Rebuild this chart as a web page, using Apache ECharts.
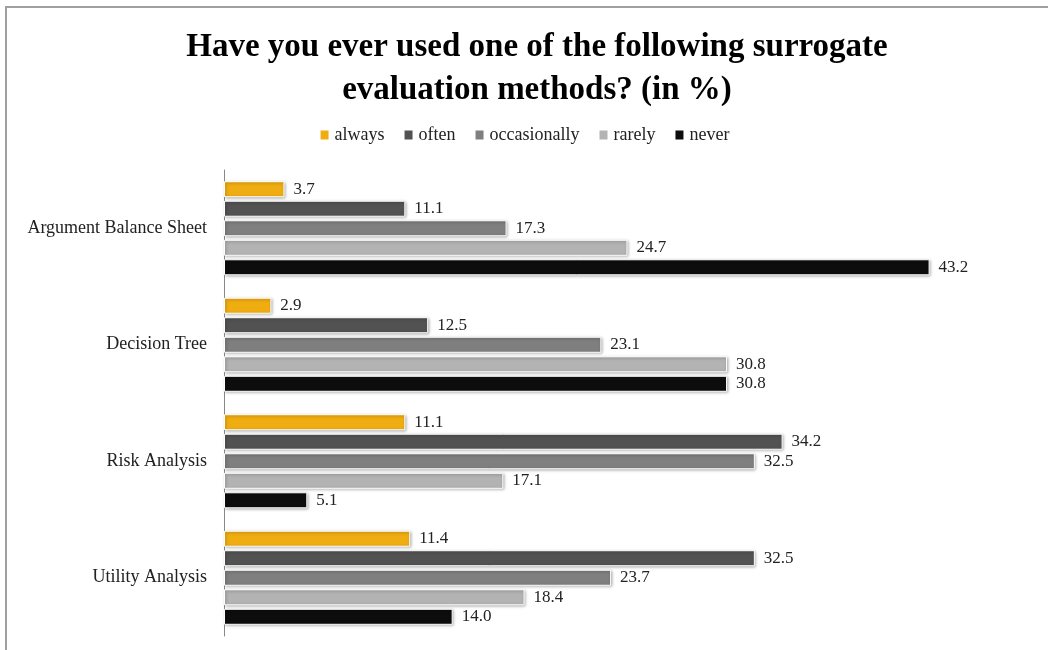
<!DOCTYPE html>
<html>
<head>
<meta charset="utf-8">
<script src="https://cdn.jsdelivr.net/npm/echarts@6/dist/echarts.min.js"></script>
<style>
  html, body { margin: 0; padding: 0; background: #fff; }
  #frame { position: absolute; left: 5px; top: 6px; width: 1100px; height: 700px; border: 2px solid #a0a0a0; box-sizing: border-box; }
  #chart { position: absolute; left: 0; top: 0; width: 1048px; height: 650px; }
</style>
</head>
<body>
<div id="frame"></div>
<div id="chart"></div>
<script>
// categories top to bottom
const methods = ['Argument Balance Sheet', 'Decision Tree', 'Risk Analysis', 'Utility Analysis']
const seriesNames = ['always', 'often', 'occasionally', 'rarely', 'never']
const always = [3.7, 2.9, 11.1, 11.4]
const often = [11.1, 12.5, 34.2, 32.5]
const occasionally = [17.3, 23.1, 32.5, 23.7]
const rarely = [24.7, 30.8, 17.1, 18.4]
const never = [43.2, 30.8, 5.1, 14.0]
const colors = ['#F0AD12', '#525252', '#7F7F7F', '#B3B3B3', '#0D0D0D']

const values = [always, often, occasionally, rarely, never]
const font = '"Liberation Serif", "DejaVu Serif", serif'

// 基于准备好的dom，初始化echarts实例
const myChart = echarts.init(document.getElementById('chart'))

myChart.setOption({
  animation: false,
  color: colors,
  textStyle: { fontFamily: font },
  title: {
    text: 'Have you ever used one of the following surrogate\nevaluation methods? (in %)',
    left: 532,
    textAlign: 'center',
    top: 21,
    textStyle: {
      fontFamily: font,
      fontSize: 33,
      fontWeight: 'bold',
      color: '#000',
      lineHeight: 43
    }
  },
  legend: {
    data: seriesNames,
    top: 121,
    left: 'center',
    itemWidth: 10,
    itemHeight: 11,
    itemGap: 18,
    icon: 'rect',
    textStyle: { fontFamily: font, fontSize: 18, color: '#222' }
  },
  grid: {
    left: 224,
    top: 170,
    width: 735,
    height: 466,
    containLabel: false
  },
  xAxis: {
    type: 'value',
    min: 0,
    max: 45,
    show: false
  },
  yAxis: {
    type: 'category',
    data: methods,
    inverse: true,
    axisLine: { show: true, lineStyle: { color: '#888', width: 1 } },
    axisTick: { show: false },
    axisLabel: { fontFamily: font, fontSize: 18, color: '#222', margin: 17 }
  },
  series: seriesNames.map((name, i) => ({
    name: name,
    type: 'bar',
    data: values[i],
    barWidth: 16,
    barGap: '22%',
    barCategoryGap: '21%',
    itemStyle: {
      color: colors[i],
      borderColor: '#fff',
      borderWidth: 1,
      shadowBlur: 3,
      shadowOffsetX: 1,
      shadowOffsetY: 1,
      shadowColor: 'rgba(0,0,0,0.35)'
    },
    label: {
      show: true,
      position: 'right',
      distance: 9,
      fontFamily: font,
      fontSize: 17,
      color: '#222',
      formatter: p => p.value.toFixed(1)
    }
  }))
})
</script>
</body>
</html>
